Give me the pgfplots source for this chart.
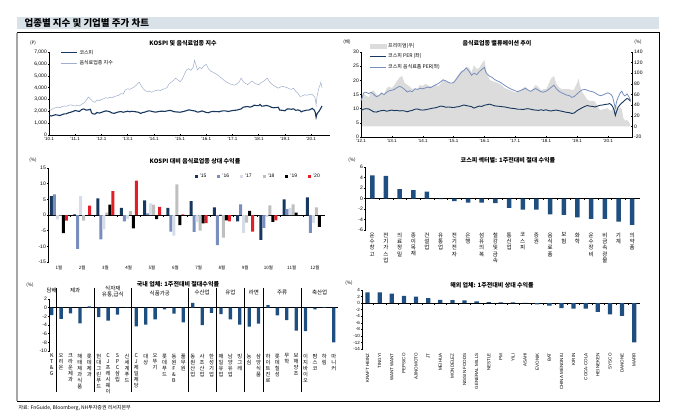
\documentclass[border=0pt]{standalone}
\usepackage{fontspec}
\setmainfont{Liberation Sans}
\newfontfamily\kr{Noto Sans CJK KR}
\usepackage{pgfplots}
\pgfplotsset{compat=1.18}

\definecolor{navy}{RGB}{23,55,94}
\definecolor{barblue}{RGB}{31,78,128}
\definecolor{steel}{RGB}{120,142,188}
\definecolor{lightsteel}{RGB}{160,175,205}
\definecolor{pale}{RGB}{214,220,232}
\definecolor{midgray}{RGB}{191,191,191}
\definecolor{red20}{RGB}{228,30,38}
\definecolor{premgray}{RGB}{220,220,220}
\definecolor{titlebg}{RGB}{217,225,233}

\pgfplotsset{
  panel/.style={scale only axis, clip=false, anchor=north west,
    tick align=outside, major tick length=2pt, minor tick length=1.5pt,
    every tick/.style={black, line width=0.4pt},
    axis line style={black, line width=0.4pt},
    ticklabel style={font=\fontsize{5}{6}\selectfont, inner sep=1pt},
    /pgf/number format/assume math mode=true, scaled ticks=false,
    /pgf/number format/1000 sep={,},
    hide obscured x ticks=false, hide obscured y ticks=false},
  noarrows/.style={every outer x axis line/.append style={-}, every outer y axis line/.append style={-},
    every inner x axis line/.append style={-}, every inner y axis line/.append style={-}},
  krlegend/.style={legend style={draw=none, fill=none, font=\kr\fontsize{5}{6}\selectfont,
    inner sep=0pt, row sep=1pt}, legend cell align=left},
}
\newcommand\ttl{\kr\bfseries\fontsize{6}{7}\selectfont}
\newcommand\unit{\kr\fontsize{4.5}{5}\selectfont}

\begin{document}
\begin{tikzpicture}
\path[use as bounding box] (0,0) rectangle (680pt,-416pt);
% title bar and frame
\fill[titlebg] (17pt,-17pt) rectangle (659pt,-29pt);
\node[anchor=west, font=\kr\bfseries\fontsize{9.5}{10}\selectfont] at (21pt,-23pt) {업종별 지수 및 기업별 주가 차트};
\draw[black, line width=0.5pt] (17pt,-32.5pt) -- (659pt,-32.5pt) -- (659pt,-401pt) -- (17pt,-401pt);
\draw[gray!70, line width=2pt] (17pt,-32.5pt) -- (17pt,-401pt);
\node[anchor=west, font=\kr\fontsize{5}{6}\selectfont] at (15pt,-408pt) {자료: FnGuide, Bloomberg, NH투자증권 리서치본부};

% ---------- panel 1: KOSPI and food index
\begin{axis}[panel, at={(49pt,-52pt)}, width=281pt, height=83pt,
  axis y line=left, axis x line=bottom, noarrows,
  xmin=2010, xmax=2020.72, ymin=0, ymax=7000, ytick={0,1000,...,7000},
  xtick={2010,...,2020},
  xticklabels={'10.1,'11.1,'12.1,'13.1,'14.1,'15.1,'16.1,'17.1,'18.1,'19.1,'20.1},
  xticklabel style={font=\fontsize{4.5}{5}\selectfont},
  krlegend, legend style={at={(axis description cs:0.04,1.05)}, anchor=north west},
  legend image code/.code={\draw[#1] (0pt,0pt) -- (16pt,0pt);}]
\addplot[navy, line width=1.1pt] coordinates {
(2010.00,1680) (2010.08,1600) (2010.16,1650) (2010.25,1710) (2010.33,1680) (2010.41,1640)
(2010.50,1720) (2010.58,1780) (2010.66,1790) (2010.75,1880) (2010.83,1920) (2010.91,1980)
(2011.00,2070) (2011.08,2020) (2011.16,1990) (2011.25,2150) (2011.33,2200) (2011.41,2100)
(2011.50,2120) (2011.58,2170) (2011.62,1900) (2011.66,1800) (2011.75,1760) (2011.83,1900)
(2011.91,1850) (2012.00,1900) (2012.08,1980) (2012.16,2030) (2012.25,2010) (2012.33,1950)
(2012.41,1850) (2012.50,1830) (2012.58,1900) (2012.66,1950) (2012.75,1980) (2012.83,1920)
(2012.91,1960) (2013.00,2010) (2013.08,1960) (2013.16,2000) (2013.25,1980) (2013.33,1950)
(2013.41,1920) (2013.50,1820) (2013.58,1900) (2013.66,1930) (2013.75,2010) (2013.83,2040)
(2013.91,2000) (2014.00,1950) (2014.08,1930) (2014.16,1970) (2014.25,2000) (2014.33,2010)
(2014.41,1990) (2014.50,2030) (2014.58,2070) (2014.66,2060) (2014.75,1980) (2014.83,1950)
(2014.91,1940) (2015.00,1920) (2015.08,1960) (2015.16,2000) (2015.25,2060) (2015.33,2120)
(2015.41,2090) (2015.50,2050) (2015.58,2020) (2015.66,1930) (2015.75,1960) (2015.83,2030)
(2015.91,1980) (2016.00,1900) (2016.08,1880) (2016.16,1950) (2016.25,1990) (2016.33,1980)
(2016.41,1970) (2016.50,1960) (2016.58,2020) (2016.66,2040) (2016.75,2030) (2016.83,1980)
(2016.91,2020) (2017.00,2060) (2017.08,2080) (2017.16,2100) (2017.25,2150) (2017.33,2200)
(2017.41,2350) (2017.50,2380) (2017.58,2400) (2017.66,2350) (2017.75,2400) (2017.83,2520)
(2017.91,2480) (2018.00,2480) (2018.05,2580) (2018.12,2430) (2018.20,2450) (2018.30,2500)
(2018.41,2420) (2018.50,2320) (2018.58,2300) (2018.66,2320) (2018.75,2340) (2018.80,2100)
(2018.91,2080) (2019.00,2040) (2019.08,2190) (2019.16,2200) (2019.25,2170) (2019.33,2210)
(2019.41,2080) (2019.50,2120) (2019.58,2050) (2019.62,1950) (2019.66,2000) (2019.75,2050)
(2019.83,2100) (2019.91,2100) (2020.00,2190) (2020.04,2250) (2020.08,2170) (2020.12,2100)
(2020.16,1900) (2020.19,1480) (2020.22,1750) (2020.26,1900) (2020.30,2000) (2020.34,2150)
(2020.37,2250) (2020.40,2400) (2020.42,2360)};
\addlegendentry{코스피}
\addplot[lightsteel, line width=0.5pt] coordinates {
(2010.00,2150) (2010.08,2100) (2010.16,2250) (2010.25,2300) (2010.33,2350) (2010.41,2300)
(2010.50,2400) (2010.58,2450) (2010.66,2420) (2010.75,2500) (2010.83,2550) (2010.91,2480)
(2011.00,2450) (2011.08,2500) (2011.16,2450) (2011.25,2600) (2011.33,2700) (2011.41,2900)
(2011.50,3200) (2011.58,3050) (2011.66,2850) (2011.75,2750) (2011.83,2950) (2011.91,2900)
(2012.00,3000) (2012.08,3050) (2012.16,3150) (2012.25,3100) (2012.33,3200) (2012.41,3150)
(2012.50,3250) (2012.58,3300) (2012.66,3350) (2012.75,3500) (2012.83,3450) (2012.91,3800)
(2013.00,3900) (2013.08,3850) (2013.16,3950) (2013.25,4050) (2013.33,4200) (2013.41,4400)
(2013.45,4450) (2013.50,4200) (2013.58,3950) (2013.66,3750) (2013.75,3650) (2013.83,3700)
(2013.91,3600) (2014.00,3700) (2014.08,3750) (2014.16,3800) (2014.25,3750) (2014.33,3850)
(2014.41,3900) (2014.50,4000) (2014.58,4300) (2014.66,4450) (2014.75,4600) (2014.83,4800)
(2014.91,4650) (2015.00,4500) (2015.08,4700) (2015.16,5100) (2015.25,5500) (2015.33,5600)
(2015.41,5450) (2015.50,5700) (2015.55,6300) (2015.62,5800) (2015.66,5500) (2015.75,5700)
(2015.83,5600) (2015.91,5850) (2016.00,5950) (2016.08,5600) (2016.16,5400) (2016.25,5300)
(2016.33,5200) (2016.41,5100) (2016.50,4950) (2016.58,4800) (2016.66,4650) (2016.75,4500)
(2016.83,4400) (2016.91,4300) (2017.00,4250) (2017.08,4200) (2017.16,4300) (2017.25,4450)
(2017.33,4800) (2017.41,4500) (2017.50,4350) (2017.58,4250) (2017.66,4400) (2017.75,4550)
(2017.83,4400) (2017.91,4300) (2018.00,4250) (2018.08,4400) (2018.16,4500) (2018.25,4650)
(2018.33,4800) (2018.41,4500) (2018.50,4300) (2018.58,4150) (2018.66,4050) (2018.75,3950)
(2018.83,4050) (2018.91,4100) (2019.00,4050) (2019.08,4000) (2019.16,3900) (2019.25,3850)
(2019.33,3950) (2019.41,3700) (2019.50,3500) (2019.58,3250) (2019.66,3300) (2019.75,3400)
(2019.83,3350) (2019.91,3400) (2020.00,3450) (2020.05,3400) (2020.10,3300) (2020.14,3200)
(2020.17,2900) (2020.19,2500) (2020.22,3200) (2020.26,3600) (2020.30,4000) (2020.34,4200)
(2020.37,4450) (2020.39,4250) (2020.42,3950)};
\addlegendentry{음식료업종 지수}
\end{axis}
\node[font=\ttl] at (183pt,-43pt) {KOSPI 및 음식료업종 지수};
\node[font=\unit] at (33pt,-43pt) {(P)};

% ---------- panel 2: valuation (right axis premium area)
\begin{axis}[panel, at={(361pt,-52pt)}, width=271pt, height=85pt,
  axis y line=right, axis x line=none, noarrows,
  xmin=2012, xmax=2020.78, ymin=-20, ymax=140, ytick={-20,0,...,140}]
\addplot[fill=premgray, draw=none] coordinates {
(2012.00,45) (2012.04,55) (2012.08,62) (2012.16,58) (2012.25,55) (2012.33,65) (2012.41,68)
(2012.50,60) (2012.58,58) (2012.66,65) (2012.75,60) (2012.83,72) (2012.91,75) (2013.00,72)
(2013.08,78) (2013.16,85) (2013.25,92) (2013.33,95) (2013.41,82) (2013.50,78) (2013.58,75)
(2013.66,70) (2013.75,72) (2013.83,70) (2013.91,78) (2014.00,76) (2014.08,80) (2014.16,78)
(2014.25,75) (2014.33,76) (2014.41,78) (2014.50,76) (2014.58,80) (2014.66,88) (2014.75,86)
(2014.83,82) (2014.91,80) (2015.00,84) (2015.08,90) (2015.16,98) (2015.25,105) (2015.33,106)
(2015.41,112) (2015.50,110) (2015.58,102) (2015.66,115) (2015.75,108) (2015.83,110) (2015.91,118)
(2016.00,125) (2016.04,110) (2016.08,100) (2016.16,88) (2016.25,85) (2016.33,84) (2016.41,82)
(2016.50,80) (2016.58,76) (2016.66,72) (2016.75,70) (2016.83,68) (2016.91,66) (2017.00,64)
(2017.08,65) (2017.16,68) (2017.25,72) (2017.33,75) (2017.41,68) (2017.50,65) (2017.58,72)
(2017.66,78) (2017.75,74) (2017.83,68) (2017.91,70) (2018.00,70) (2018.08,80) (2018.16,90)
(2018.25,95) (2018.33,80) (2018.41,74) (2018.50,70) (2018.58,70) (2018.66,70) (2018.75,70)
(2018.83,68) (2018.91,70) (2019.00,82) (2019.05,90) (2019.08,80) (2019.16,65) (2019.25,58)
(2019.33,50) (2019.41,48) (2019.50,48) (2019.58,47) (2019.66,38) (2019.75,30) (2019.83,32)
(2019.91,33) (2020.00,34) (2020.05,30) (2020.10,30) (2020.15,32) (2020.20,35) (2020.24,40)
(2020.28,38) (2020.33,33) (2020.40,36) (2020.45,32) (2020.50,16) (2020.55,11) (2020.62,12)
(2020.68,8) (2020.73,2)} \closedcycle;
\end{axis}
\begin{axis}[panel, at={(361pt,-52pt)}, width=271pt, height=85pt,
  axis y line=left, axis x line=bottom, noarrows,
  xmin=2012, xmax=2020.78, ymin=0, ymax=30, ytick={0,5,...,30},
  xtick={2012,...,2020},
  xticklabels={'12.1,'13.1,'14.1,'15.1,'16.1,'17.1,'18.1,'19.1,'20.1},
  xticklabel style={font=\fontsize{4.5}{5}\selectfont},
  krlegend, legend style={at={(axis description cs:0.03,1.13)}, anchor=north west},
  legend image code/.code={\draw[#1] (0pt,0pt) -- (16pt,0pt);}]
\addlegendimage{legend image code/.code={\fill[premgray] (0pt,-2pt) rectangle (16pt,2pt);}}
\addlegendentry{프리미엄(우)}
\addplot[navy, line width=0.9pt] coordinates {
(2012.00,9.3) (2012.08,9.8) (2012.16,10.0) (2012.25,9.9) (2012.33,9.4) (2012.41,8.9) (2012.50,8.8)
(2012.58,9.1) (2012.66,9.3) (2012.75,9.4) (2012.83,9.1) (2012.91,9.3) (2013.00,9.5) (2013.08,9.3)
(2013.16,9.4) (2013.25,9.2) (2013.33,9.3) (2013.41,9.2) (2013.50,8.9) (2013.58,9.2) (2013.66,9.4)
(2013.75,9.8) (2013.83,9.9) (2013.91,9.6) (2014.00,9.5) (2014.08,9.6) (2014.16,9.8) (2014.25,10.0)
(2014.33,10.2) (2014.41,10.3) (2014.50,10.6) (2014.58,10.9) (2014.66,10.8) (2014.75,10.5)
(2014.83,10.6) (2014.91,10.5) (2015.00,10.4) (2015.08,10.6) (2015.16,10.7) (2015.25,11.0)
(2015.33,11.3) (2015.41,11.1) (2015.50,10.9) (2015.58,10.7) (2015.66,10.2) (2015.75,10.6)
(2015.83,10.9) (2015.91,10.8) (2016.00,11.2) (2016.08,11.4) (2016.16,11.6) (2016.25,11.3)
(2016.33,11.0) (2016.41,10.9) (2016.50,10.8) (2016.58,10.7) (2016.66,10.6) (2016.75,10.4)
(2016.83,10.2) (2016.91,10.1) (2017.00,10.0) (2017.08,9.8) (2017.16,9.8) (2017.25,9.7)
(2017.33,9.9) (2017.41,10.0) (2017.50,9.8) (2017.58,9.6) (2017.66,9.5) (2017.75,9.4)
(2017.83,9.6) (2017.91,9.4) (2018.00,9.6) (2018.08,9.3) (2018.16,9.2) (2018.25,9.4)
(2018.33,9.5) (2018.41,9.3) (2018.50,9.1) (2018.58,8.9) (2018.66,8.7) (2018.75,8.6)
(2018.83,8.3) (2018.91,8.5) (2019.00,9.3) (2019.08,9.8) (2019.16,10.3) (2019.25,10.8)
(2019.33,11.1) (2019.41,10.9) (2019.50,10.8) (2019.58,10.6) (2019.66,10.9) (2019.75,11.2)
(2019.83,11.3) (2019.91,11.5) (2020.00,11.6) (2020.05,11.8) (2020.10,11.5) (2020.15,10.8)
(2020.20,9.5) (2020.24,7.6) (2020.28,9.0) (2020.33,10.5) (2020.40,11.5) (2020.48,12.3)
(2020.55,13.0) (2020.62,13.6) (2020.68,13.3) (2020.73,12.6)};
\addlegendentry{코스피 PER (좌)}
\addplot[steel, line width=0.8pt] coordinates {
(2012.00,12.8) (2012.04,14.0) (2012.08,15.5) (2012.16,15.8) (2012.25,15.3) (2012.33,15.8)
(2012.41,15.1) (2012.50,14.2) (2012.58,14.6) (2012.66,15.4) (2012.75,15.0) (2012.83,15.8)
(2012.91,16.3) (2013.00,16.5) (2013.08,16.8) (2013.16,17.4) (2013.25,17.9) (2013.33,17.5)
(2013.41,16.8) (2013.50,15.9) (2013.58,16.3) (2013.66,16.0) (2013.75,17.0) (2013.83,16.8)
(2013.91,17.2) (2014.00,17.0) (2014.08,17.3) (2014.16,17.6) (2014.25,17.4) (2014.33,17.9)
(2014.41,18.4) (2014.50,18.8) (2014.58,19.5) (2014.66,20.2) (2014.75,19.8) (2014.83,19.3)
(2014.91,19.0) (2015.00,19.2) (2015.08,20.3) (2015.16,21.5) (2015.25,22.8) (2015.33,23.5)
(2015.41,24.4) (2015.50,23.2) (2015.58,21.8) (2015.66,22.5) (2015.75,22.0) (2015.83,23.0)
(2015.91,23.8) (2016.00,24.6) (2016.04,23.0) (2016.08,22.3) (2016.16,21.5) (2016.25,21.0)
(2016.33,20.3) (2016.41,19.8) (2016.50,19.4) (2016.58,18.8) (2016.66,18.2) (2016.75,17.6)
(2016.83,17.1) (2016.91,16.7) (2017.00,16.3) (2017.08,16.0) (2017.16,16.4) (2017.25,16.8)
(2017.33,17.2) (2017.41,16.6) (2017.50,16.1) (2017.58,16.7) (2017.66,17.1) (2017.75,16.5)
(2017.83,16.0) (2017.91,15.8) (2018.00,16.2) (2018.08,16.8) (2018.16,17.5) (2018.25,18.3)
(2018.33,17.0) (2018.41,16.2) (2018.50,15.6) (2018.58,15.2) (2018.66,14.8) (2018.75,14.6)
(2018.83,14.0) (2018.91,14.3) (2019.00,15.2) (2019.08,16.0) (2019.16,16.6) (2019.25,16.8)
(2019.33,16.5) (2019.41,16.2) (2019.50,16.0) (2019.58,15.6) (2019.66,15.0) (2019.75,14.6)
(2019.83,14.8) (2019.91,15.2) (2020.00,15.6) (2020.05,15.3) (2020.10,15.0) (2020.15,14.2)
(2020.20,12.0) (2020.24,10.2) (2020.28,12.5) (2020.33,14.0) (2020.40,15.6) (2020.45,16.2)
(2020.50,15.0) (2020.55,14.5) (2020.62,15.2) (2020.68,14.2) (2020.73,13.1)};
\addlegendentry{코스피 음식료품 PER(좌)}
\end{axis}
\node[font=\ttl] at (497pt,-43pt) {음식료업종 밸류에이션 추이};
\node[font=\unit] at (347pt,-42pt) {(배)};
\node[font=\unit] at (638pt,-42pt) {(\%)};

% ---------- panel 3: monthly relative returns
\begin{axis}[panel, at={(48pt,-168pt)}, width=277pt, height=94pt,
  axis y line=left, axis x line=middle, noarrows,
  xmin=0.53, xmax=12.43, ymin=-15, ymax=15, ytick={-15,-10,...,15},
  xtick={1,...,12}, major x tick style={draw=none}, minor xtick={1.5,2.5,...,11.5},
  xticklabels={1월,2월,3월,4월,5월,6월,7월,8월,9월,10월,11월,12월},
  xticklabel style={font=\kr\fontsize{4.5}{5}\selectfont, anchor=north, yshift=-48pt},
  ybar=0pt, bar width=3pt,
  legend columns=6,
  legend style={at={(axis description cs:1,0.98)}, anchor=north east, draw=none, fill=none,
    font=\fontsize{5}{6}\selectfont, /tikz/every even column/.append style={column sep=9pt}},
  legend image code/.code={\fill[#1] (0pt,-1.5pt) rectangle (3pt,1.5pt);}]
\addplot[draw=none, fill=navy] coordinates {(1,6.0) (2,0.2) (3,5.3) (4,2.3) (5,4.7) (6,2.3) (7,4.4) (8,2.4) (9,-2.0) (10,-7.9) (11,5.0) (12,5.6)};
\addlegendentry{'15}
\addplot[draw=none, fill=steel] coordinates {(1,6.6) (2,-10.8) (3,-7.8) (4,-2.0) (5,0.5) (6,-5.3) (7,-5.4) (8,-9.6) (9,3.4) (10,-4.1) (11,1.9) (12,-5.7)};
\addlegendentry{'16}
\addplot[draw=none, fill=pale] coordinates {(1,-1.4) (2,6.0) (3,-4.6) (4,-1.3) (5,3.7) (6,-6.6) (7,-2.3) (8,0.4) (9,-5.7) (10,-0.6) (11,2.3) (12,-2.5)};
\addlegendentry{'17}
\addplot[draw=none, fill=midgray] coordinates {(1,-0.2) (2,-1.8) (3,0.8) (4,1.2) (5,3.3) (6,9.8) (7,-5.0) (8,-7.2) (9,-2.4) (10,3.1) (11,3.4) (12,2.4)};
\addlegendentry{'18}
\addplot[draw=none, fill=black] coordinates {(1,-5.8) (2,-0.3) (3,3.3) (4,-4.3) (5,-1.3) (6,-3.2) (7,-2.7) (8,-1.7) (9,1.3) (10,-2.2) (11,0.8) (12,-3.8)};
\addlegendentry{'19}
\addplot[draw=none, fill=red20] coordinates {(1,-1.8) (2,3.0) (3,7.6) (4,11.0) (5,2.6) (6,0.2) (7,-2.6) (8,-2.0) (9,-5.3) (10,-1.7)};
\addlegendentry{'20}
\end{axis}
\node[font=\ttl] at (195pt,-161pt) {KOSPI 대비 음식료업종 상대 수익률};
\node[font=\unit] at (33pt,-160pt) {(\%)};

% ---------- panel 4: KOSPI sectors
\begin{axis}[panel, at={(365pt,-167pt)}, width=275pt, height=63pt,
  axis y line=left, axis x line=middle, noarrows,
  xmin=0.47, xmax=20.57, ymin=-6, ymax=6, ytick={-6,-4,...,6},
  xtick={1,...,20}, major x tick style={draw=none}, minor xtick={1.5,2.5,...,19.5},
  xticklabels={{운\\수\\창\\고},{전\\기\\가\\스\\업},{의\\료\\정\\밀},{종\\이\\목\\재},{건\\설\\업},
    {유\\통\\업},{전\\기\\전\\자},{은\\행},{섬\\유\\의\\복},{철\\강\\및\\금\\속},{통\\신\\업},
    {코\\스\\피},{증\\권},{음\\식\\료\\품},{보\\험},{화\\학},{운\\수\\장\\비},{비\\금\\속\\광\\물},
    {기\\계},{의\\약\\품}},
  xticklabel style={font=\kr\fontsize{5.5}{6.3}\selectfont, align=center, anchor=north, yshift=-31pt},
  ybar, bar width=4.5pt]
\addplot[draw=none, fill=barblue] coordinates {(1,4.4) (2,4.3) (3,1.8) (4,1.6) (5,1.3) (6,-0.1) (7,-0.5) (8,-0.8) (9,-0.8) (10,-0.9) (11,-1.8) (12,-2.1) (13,-2.1) (14,-3.0) (15,-3.1) (16,-3.6) (17,-3.9) (18,-3.9) (19,-4.4) (20,-5.0)};
\end{axis}
\node[font=\ttl] at (508pt,-160pt) {코스피 섹터별: 1주전대비 절대 수익률};
\node[font=\unit] at (352pt,-160pt) {(\%)};

% ---------- panel 5: domestic companies
\begin{axis}[panel, at={(49pt,-299pt)}, width=289pt, height=52pt,
  axis y line=left, axis x line=middle, noarrows,
  xmin=0.71, xmax=31.45, ymin=-10, ymax=2, ytick={-10,-8,...,2},
  xtick={1,...,31}, major x tick style={draw=none},
  xticklabels={{K\\T\\\&\\G},{오\\리\\온},{크\\라\\운\\제\\과},{해\\태\\제\\과\\식\\품},{롯\\데\\제\\과},
    {현\\대\\그\\린\\푸\\드},{C\\J\\프\\레\\시\\웨\\이},{S\\P\\C\\삼\\립},{신\\세\\계\\푸\\드},
    {C\\J\\제\\일\\제\\당},{대\\상},{오\\뚜\\기},{롯\\데\\푸\\드},{동\\원\\F\\\&\\B},{풀\\무\\원},
    {동\\원\\산\\업},{사\\조\\산\\업},{한\\성\\기\\업},
    {매\\일\\유\\업},{남\\양\\유\\업},{빙\\그\\레},
    {농\\심},{삼\\양\\식\\품},
    {하\\이\\트\\진\\로},{롯\\데\\칠\\성},{무\\학},{보\\해\\양\\조},
    {이\\지\\바\\이\\오},{팜\\스\\코},{하\\림},{마\\니\\커}},
  xticklabel style={font=\kr\fontsize{5.3}{6}\selectfont, align=center, anchor=north, yshift=-43pt},
  ybar, bar width=3.3pt]
\addplot[draw=none, fill=barblue] coordinates {(1,-1.7) (2,-2.6) (3,-1.3) (4,-3.6) (5,0.3)
 (6,-2.2) (7,-3.0) (8,-1.6) (9,0.05) (10,-4.3) (11,-3.9) (12,-2.7) (13,-0.4) (14,-1.4) (15,-3.4)
 (16,1.1) (17,-4.0) (18,-1.2) (19,-1.5) (20,-2.7) (21,-3.9) (22,-4.4) (23,-3.7)
 (24,0.6) (25,-1.8) (26,-2.9) (27,-5.3) (28,-5.4) (29,-0.4) (30,0.1) (31,-8.0)};
\pgfplotsinvokeforeach{1.5,5.5,9.5,15.5,18.5,21.5,23.5,27.5}{
  \draw[black, line width=0.4pt] (axis cs:#1,4.6) -- (axis cs:#1,-19.5);}
\node[font=\kr\fontsize{5.5}{6}\selectfont] at (axis cs:1,4.0) {담배};
\node[font=\kr\fontsize{5.5}{6}\selectfont] at (axis cs:3.5,4.0) {제과};
\node[font=\kr\fontsize{5.5}{6}\selectfont] at (axis cs:7.5,4.5) {식자재};
\node[font=\kr\fontsize{5.5}{6}\selectfont] at (axis cs:7.5,3.0) {유통,급식};
\node[font=\kr\fontsize{5.5}{6}\selectfont] at (axis cs:12.5,3.2) {식품가공};
\node[font=\kr\fontsize{5.5}{6}\selectfont] at (axis cs:17,3.6) {수산업};
\node[font=\kr\fontsize{5.5}{6}\selectfont] at (axis cs:20,3.6) {유업};
\node[font=\kr\fontsize{5.5}{6}\selectfont] at (axis cs:22.5,3.6) {라면};
\node[font=\kr\fontsize{5.5}{6}\selectfont] at (axis cs:25.5,3.6) {주류};
\node[font=\kr\fontsize{5.5}{6}\selectfont] at (axis cs:29.5,3.6) {축산업};
\end{axis}
\node[font=\ttl] at (178pt,-284pt) {국내 업체: 1주전대비 절대수익률};
\node[font=\unit] at (30pt,-285pt) {(\%)};

% ---------- panel 6: foreign companies
\begin{axis}[panel, at={(362pt,-290pt)}, width=278pt, height=59pt,
  axis y line=left, axis x line=middle, noarrows,
  xmin=0.54, xmax=23.48, ymin=-14, ymax=4, ytick={-14,-12,...,4},
  yticklabel style={font=\fontsize{4.5}{5}\selectfont},
  xtick={1,...,23}, major x tick style={draw=none}, minor xtick={1.5,2.5,...,22.5},
  xticklabels={KRAFT HEINZ,TINGYI,WANT WANT,PEPSICO,AJINOMOTO,JT,MEIHUA,MONDELEZ,NISSIN FOODS,
    GENERAL MILLS,NESTLE,PM,YILI,ASAHI,EVONIK,BAT,CHINA MENGNIU,KIRIN,COCA-COLA,HEINEKEN,
    SYSCO,DANONE,MARR},
  xticklabel style={font=\fontsize{4.5}{5}\selectfont, yshift=-47pt, rotate=90, anchor=east},
  ybar, bar width=4.3pt]
\addplot[draw=none, fill=barblue] coordinates {(1,3.3) (2,3.3) (3,2.9) (4,2.2) (5,2.0) (6,1.5)
 (7,1.0) (8,0.9) (9,0.8) (10,0.5) (11,0.3) (12,0.2) (13,0.2) (14,0.05) (15,-0.4) (16,-0.8)
 (17,-1.5) (18,-1.7) (19,-1.7) (20,-2.7) (21,-3.4) (22,-3.9) (23,-12.0)};
\end{axis}
\node[font=\ttl] at (492pt,-285pt) {해외 업체: 1주전대비 상대 수익률};
\node[font=\unit] at (349pt,-283pt) {(\%)};
\end{tikzpicture}
\end{document}
